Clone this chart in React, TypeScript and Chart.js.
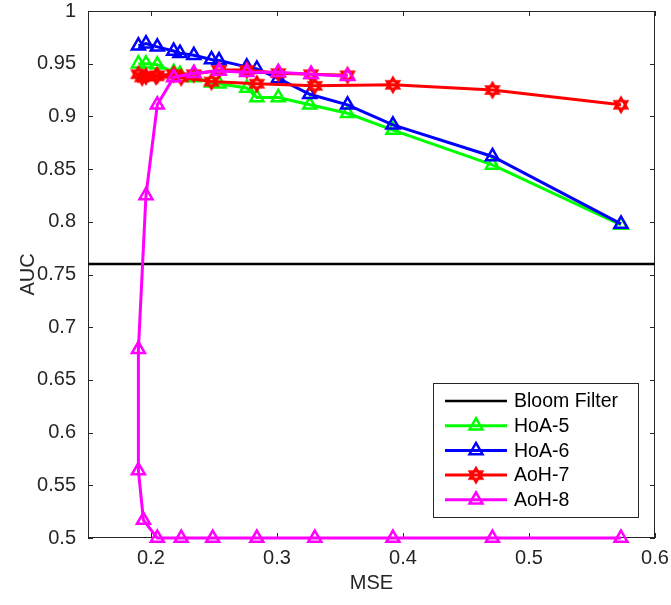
import React, { useEffect, useRef } from "react";
import { Chart, registerables } from "chart.js";

Chart.register(...registerables);

// ---- data ----
const xTicks = [0.2, 0.3, 0.4, 0.5, 0.6];
const yTicks = [0.5, 0.55, 0.6, 0.65, 0.7, 0.75, 0.8, 0.85, 0.9, 0.95, 1];
const xMin = 0.15;
const xMax = 0.6;
const yMin = 0.5;
const yMax = 1;

const bloomAUC = 0.76;

const hoa5X = [0.190, 0.196, 0.205, 0.218, 0.223, 0.234, 0.248, 0.254, 0.276, 0.284, 0.301, 0.326, 0.356, 0.392, 0.471, 0.573];
const hoa5Y = [0.950, 0.950, 0.949, 0.942, 0.940, 0.937, 0.932, 0.931, 0.927, 0.918, 0.918, 0.911, 0.903, 0.887, 0.854, 0.797];

const hoa6X = [0.190, 0.196, 0.205, 0.218, 0.223, 0.234, 0.248, 0.254, 0.276, 0.284, 0.301, 0.326, 0.356, 0.392, 0.471, 0.573];
const hoa6Y = [0.967, 0.969, 0.966, 0.962, 0.960, 0.958, 0.954, 0.953, 0.947, 0.945, 0.936, 0.921, 0.911, 0.892, 0.862, 0.798];

const aoh7X = [0.356, 0.327, 0.301, 0.276, 0.254, 0.234, 0.218, 0.205, 0.196, 0.190, 0.193, 0.204, 0.224, 0.248, 0.284, 0.330, 0.392, 0.471, 0.573];
const aoh7Y = [0.939, 0.940, 0.941, 0.944, 0.944, 0.940, 0.940, 0.939, 0.938, 0.940, 0.937, 0.938, 0.937, 0.933, 0.931, 0.929, 0.930, 0.925, 0.911];

const aoh8X = [0.356, 0.327, 0.301, 0.276, 0.254, 0.234, 0.218, 0.205, 0.196, 0.190, 0.190, 0.194, 0.205, 0.224, 0.249, 0.284, 0.330, 0.392, 0.471, 0.573];
const aoh8Y = [0.938, 0.940, 0.942, 0.942, 0.943, 0.941, 0.937, 0.911, 0.825, 0.679, 0.564, 0.517, 0.500, 0.500, 0.500, 0.500, 0.500, 0.500, 0.500, 0.500];

const legendLabels = ["Bloom Filter", "HoA-5", "HoA-6", "AoH-7", "AoH-8"];
const colors = ["#000000", "#00ff00", "#0000ff", "#ff0000", "#ff00ff"];

const FONT = "'Liberation Sans', Arial, Helvetica, sans-serif";
const AXIS_COLOR = "#262626";

function makeHexagram(color: string): HTMLCanvasElement {
  const c = document.createElement("canvas");
  const s = 20;
  c.width = s;
  c.height = s;
  const ctx = c.getContext("2d")!;
  const cx = s / 2;
  const cy = s / 2;
  const r = 7.2;
  ctx.strokeStyle = color;
  ctx.lineWidth = 2.4;
  ctx.lineJoin = "miter";
  for (let t = 0; t < 2; t++) {
    ctx.beginPath();
    for (let i = 0; i < 3; i++) {
      const a = -Math.PI / 2 + t * Math.PI + (i * 2 * Math.PI) / 3;
      const px = cx + r * Math.cos(a);
      const py = cy + r * Math.sin(a);
      if (i === 0) ctx.moveTo(px, py);
      else ctx.lineTo(px, py);
    }
    ctx.closePath();
    ctx.stroke();
  }
  return c;
}

function zip(xs: number[], ys: number[]) {
  return xs.map((x, i) => ({ x, y: ys[i] }));
}

export default function App() {
  const ref = useRef<HTMLCanvasElement | null>(null);

  useEffect(() => {
    if (!ref.current) return;
    const star = makeHexagram(colors[3]);

    const frame = {
      id: "frame",
      beforeDatasetsDraw(chart: any) {
        const { ctx, chartArea } = chart;
        const { left, right, top, bottom } = chartArea;
        const xs = chart.scales.x;
        const ys = chart.scales.y;
        ctx.save();
        ctx.strokeStyle = AXIS_COLOR;
        ctx.lineWidth = 1;
        ctx.strokeRect(left + 0.5, top + 0.5, right - left - 1, bottom - top - 1);
        const tl = 5;
        ctx.beginPath();
        for (const v of xTicks) {
          const px = Math.round(xs.getPixelForValue(v)) + 0.5;
          ctx.moveTo(px, bottom);
          ctx.lineTo(px, bottom - tl);
          ctx.moveTo(px, top);
          ctx.lineTo(px, top + tl);
        }
        for (const v of yTicks) {
          const py = Math.round(ys.getPixelForValue(v)) + 0.5;
          ctx.moveTo(left, py);
          ctx.lineTo(left + tl, py);
          ctx.moveTo(right, py);
          ctx.lineTo(right - tl, py);
        }
        ctx.stroke();
        ctx.restore();
      },
      afterDraw(chart: any) {
        const { ctx, chartArea } = chart;
        const w = 205;
        const h = 134;
        const bx = chartArea.right - 17 - w;
        const by = chartArea.bottom - 21 - h;
        ctx.save();
        ctx.fillStyle = "#ffffff";
        ctx.fillRect(bx, by, w, h);
        ctx.strokeStyle = AXIS_COLOR;
        ctx.lineWidth = 1;
        ctx.strokeRect(bx + 0.5, by + 0.5, w, h);
        const rowH = 24.7;
        for (let i = 0; i < legendLabels.length; i++) {
          const yy = by + 18 + i * rowH;
          const x0 = bx + 12;
          const x1 = bx + 74;
          ctx.strokeStyle = colors[i];
          ctx.lineWidth = i === 0 ? 2.5 : 3;
          ctx.beginPath();
          ctx.moveTo(x0, yy);
          ctx.lineTo(x1, yy);
          ctx.stroke();
          const mx = (x0 + x1) / 2;
          if (i === 1 || i === 2 || i === 4) {
            const r = 7.5;
            ctx.lineWidth = 2.5;
            ctx.beginPath();
            ctx.moveTo(mx, yy - r);
            ctx.lineTo(mx + r * 0.866, yy + r / 2);
            ctx.lineTo(mx - r * 0.866, yy + r / 2);
            ctx.closePath();
            ctx.stroke();
          } else if (i === 3) {
            ctx.drawImage(star, mx - star.width / 2, yy - star.height / 2);
          }
          ctx.fillStyle = "#000000";
          ctx.font = `19.5px ${FONT}`;
          ctx.textBaseline = "middle";
          ctx.textAlign = "left";
          ctx.fillText(legendLabels[i], bx + 81, yy + 1);
        }
        ctx.restore();
      },
    };

    const triangle = (color: string, xs: number[], ys: number[], label: string, order: number) => ({
      label,
      data: zip(xs, ys),
      showLine: true,
      borderColor: color,
      borderWidth: 3,
      pointStyle: "triangle",
      pointRadius: 7.5,
      pointHoverRadius: 7.5,
      pointBorderWidth: 2.5,
      pointBorderColor: color,
      pointBackgroundColor: "rgba(0,0,0,0)",
      clip: false,
      order,
    });

    const chart = new Chart(ref.current, {
      type: "scatter",
      data: {
        datasets: [
          {
            label: legendLabels[0],
            data: [
              { x: xMin, y: bloomAUC },
              { x: xMax, y: bloomAUC },
            ],
            showLine: true,
            borderColor: colors[0],
            borderWidth: 2.5,
            pointRadius: 0,
            clip: false,
            order: 4,
          },
          triangle(colors[1], hoa5X, hoa5Y, legendLabels[1], 3),
          triangle(colors[2], hoa6X, hoa6Y, legendLabels[2], 2),
          {
            label: legendLabels[3],
            data: zip(aoh7X, aoh7Y),
            showLine: true,
            borderColor: colors[3],
            borderWidth: 3,
            pointStyle: star,
            pointRadius: 8,
            clip: false,
            order: 1,
          },
          triangle(colors[4], aoh8X, aoh8Y, legendLabels[4], 0),
        ] as any,
      },
      options: {
        animation: false,
        responsive: false,
        events: [],
        layout: { padding: { left: 0, right: 16, top: 8, bottom: 0 } },
        plugins: {
          legend: { display: false },
          tooltip: { enabled: false },
        },
        scales: {
          x: {
            type: "linear",
            min: xMin,
            max: xMax,
            grid: { display: false, drawTicks: false },
            border: { display: false },
            afterBuildTicks: (scale: any) => {
              scale.ticks = xTicks.map((v) => ({ value: v }));
            },
            afterFit: (scale: any) => {
              scale.height = 67;
              scale.paddingLeft = 0;
              scale.paddingRight = 0;
            },
            ticks: {
              autoSkip: false,
              maxRotation: 0,
              padding: 8,
              color: AXIS_COLOR,
              font: { family: FONT, size: 20 },
              callback: (v: any) => String(Number(v)),
            },
            title: {
              display: true,
              text: "MSE",
              color: AXIS_COLOR,
              font: { family: FONT, size: 20 },
              padding: { top: 0, bottom: 10 },
            },
          },
          y: {
            type: "linear",
            min: yMin,
            max: yMax,
            grid: { display: false, drawTicks: false },
            border: { display: false },
            afterBuildTicks: (scale: any) => {
              scale.ticks = yTicks.map((v) => ({ value: v }));
            },
            afterFit: (scale: any) => {
              scale.width = 88;
              scale.paddingTop = 0;
              scale.paddingBottom = 0;
            },
            ticks: {
              autoSkip: false,
              padding: 12,
              color: AXIS_COLOR,
              font: { family: FONT, size: 20 },
              callback: (v: any) => String(Number(Number(v).toFixed(2))),
            },
            title: {
              display: true,
              text: "AUC",
              color: AXIS_COLOR,
              font: { family: FONT, size: 20 },
              padding: { top: 16, bottom: 0 },
            },
          },
        },
      } as any,
      plugins: [frame],
    });

    return () => chart.destroy();
  }, []);

  return (
    <div style={{ position: "fixed", left: 0, top: 0, width: 671, height: 605, background: "#fff" }}>
      <canvas ref={ref} width={671} height={605} style={{ display: "block", width: 671, height: 605 }} />
    </div>
  );
}
